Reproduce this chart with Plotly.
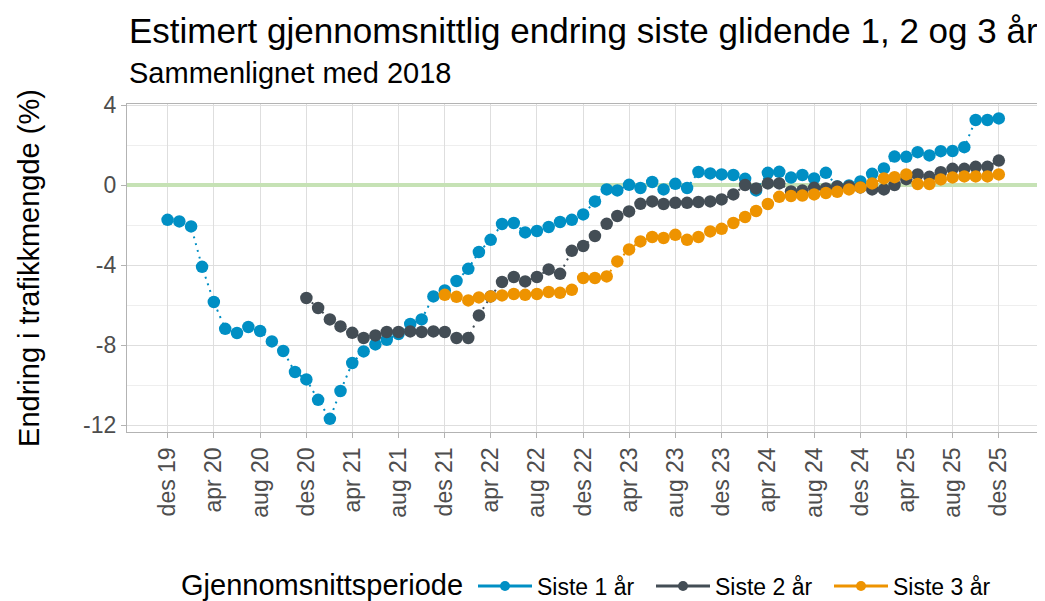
import pandas as pd
import plotly.graph_objects as go

# ---- data ----
months = pd.date_range("2019-12-01", periods=73, freq="MS")

siste_1_ar = [
    -1.72, -1.80, -2.05, -4.07, -5.83, -7.17, -7.38, -7.08, -7.28, -7.80,
    -8.28, -9.33, -9.70, -10.72, -11.67, -10.28, -8.88, -8.30, -7.95, -7.72,
    -7.43, -6.93, -6.70, -5.55, -5.25, -4.78, -4.17, -3.33, -2.72, -1.93,
    -1.88, -2.35, -2.28, -2.08, -1.83, -1.72, -1.45, -0.80, -0.20, -0.25,
    0.03, -0.13, 0.17, -0.20, 0.08, -0.13, 0.67, 0.60, 0.55, 0.52,
    0.33, -0.25, 0.63, 0.68, 0.39, 0.52, 0.35, 0.63, -0.05, 0.00,
    0.20, 0.58, 0.85, 1.44, 1.43, 1.66, 1.50, 1.71, 1.72, 1.91,
    3.27, 3.27, 3.35,
]
siste_2_ar = [
    -5.63, -6.13, -6.70, -7.05, -7.37, -7.63, -7.50, -7.33, -7.33, -7.30,
    -7.33, -7.30, -7.33, -7.63, -7.63, -6.50, -5.55, -4.83, -4.58, -4.80,
    -4.58, -4.20, -4.42, -3.27, -3.03, -2.53, -1.92, -1.53, -1.30, -0.92,
    -0.80, -0.93, -0.87, -0.87, -0.83, -0.80, -0.70, -0.45, 0.02, -0.15,
    0.10, 0.10, -0.30, -0.26, -0.12, -0.15, -0.05, -0.05, -0.10, -0.20,
    -0.20, 0.02, 0.31, 0.55, 0.43, 0.66, 0.83, 0.83, 0.93, 0.93,
    1.24,
]
siste_3_ar = [
    -5.47, -5.57, -5.75, -5.60, -5.55, -5.50, -5.43, -5.47, -5.43, -5.33,
    -5.37, -5.22, -4.63, -4.63, -4.55, -3.80, -3.20, -2.80, -2.58, -2.63,
    -2.47, -2.72, -2.58, -2.30, -2.17, -1.88, -1.58, -1.28, -0.93, -0.57,
    -0.53, -0.51, -0.45, -0.38, -0.32, -0.20, -0.10, 0.10, 0.35, 0.41,
    0.55, 0.07, 0.07, 0.30, 0.40, 0.45, 0.45, 0.45, 0.55,
]

series_names = ["Siste 1 år", "Siste 2 år", "Siste 3 år"]
series_colors = ["#008fc4", "#434d55", "#ee9300"]
legend_title = "Gjennomsnittsperiode"

tick_text = ["des 19", "apr 20", "aug 20", "des 20", "apr 21", "aug 21", "des 21",
             "apr 22", "aug 22", "des 22", "apr 23", "aug 23", "des 23", "apr 24",
             "aug 24", "des 24", "apr 25", "aug 25", "des 25"]
tick_vals = list(months[::4])
y_tick_vals = [-12, -8, -4, 0, 4]
y_tick_text = ["-12", "-8", "-4", "0", "4"]

FONT = "Liberation Sans, Arial, sans-serif"

fig = go.Figure()

series = [
    (months, siste_1_ar),
    (months[12:], siste_2_ar),
    (months[24:], siste_3_ar),
]
for (xs, ys), name, col in zip(series, series_names, series_colors):
    fig.add_trace(go.Scatter(
        x=list(xs), y=ys, mode="lines+markers", name=name,
        line=dict(color=col, width=2, dash="2px,5px"),
        marker=dict(color=col, size=12.5),
        showlegend=False, legendgroup=name,
    ))

# legend entries (solid line + point, as in the reference legend)
for name, col in zip(series_names, series_colors):
    fig.add_trace(go.Scatter(
        x=[None], y=[None], mode="lines+markers", name=name,
        line=dict(color=col, width=3), marker=dict(color=col, size=10),
        legendgroup=name, showlegend=True,
    ))

# page body adds an 8px offset, so the figure is 8px smaller on each axis
W, H = 1037, 593
PL, PT, PB = 119, 96, 169
plot_w = W - PL - 6
plot_h = H - PT - PB

fig.update_layout(
    width=W, height=H,
    margin=dict(l=PL, r=6, t=PT, b=PB),
    paper_bgcolor="white", plot_bgcolor="white",
    font=dict(family=FONT, color="black"),
    showlegend=True,
    legend=dict(
        orientation="h", xref="container", yref="container",
        x=465 / W, xanchor="left", y=1 - 578 / H, yanchor="middle",
        font=dict(size=23, family=FONT),
        itemwidth=54, entrywidth=109, tracegroupgap=0,
    ),
    annotations=[
        dict(text="Estimert gjennomsnittlig endring siste glidende 1, 2 og 3 år",
             xref="paper", yref="paper", x=0.0, y=1.225, xanchor="left",
             yanchor="middle", showarrow=False, font=dict(size=35, family=FONT)),
        dict(text="Sammenlignet med 2018",
             xref="paper", yref="paper", x=0.0, y=1.095, xanchor="left",
             yanchor="middle", showarrow=False, font=dict(size=29, family=FONT)),
        dict(text=legend_title,
             xref="paper", yref="paper", x=(171 - PL) / plot_w, y=(plot_h - (577 - PT)) / plot_h,
             xanchor="left", yanchor="middle", showarrow=False,
             font=dict(size=29, family=FONT)),
    ],
)

fig.update_xaxes(
    range=["2019-08-16", "2026-03-17"], automargin=False,
    tickmode="array", tickvals=tick_vals, ticktext=tick_text,
    tickangle=-90, tickfont=dict(size=23, color="#4d4d4d", family=FONT),
    ticks="outside", ticklen=5, tickcolor="#b3b3b3", tickwidth=1.2,
    showgrid=True, gridcolor="#dedede", gridwidth=1.3,
    showline=True, linecolor="#b3b3b3", linewidth=1.3, mirror=True,
    zeroline=False,
)
fig.update_yaxes(
    range=[-12.33, 4.07], automargin=False,
    tickmode="array", tickvals=y_tick_vals, ticktext=y_tick_text,
    tickfont=dict(size=23, color="#4d4d4d", family=FONT),
    ticks="outside", ticklen=5, tickcolor="#b3b3b3", tickwidth=1.2,
    showgrid=True, gridcolor="#dedede", gridwidth=1.3,
    minor=dict(tickvals=[-10, -6, -2, 2], showgrid=True, gridcolor="#eeeeee", gridwidth=1, ticks=""),
    showline=True, linecolor="#b3b3b3", linewidth=1.3, mirror=True,
    zeroline=True, zerolinecolor="#c6e2b5", zerolinewidth=3.5,
    title=dict(text="Endring i trafikkmengde (%)", font=dict(size=29, family=FONT), standoff=34),
)

fig.write_html("out.html")
